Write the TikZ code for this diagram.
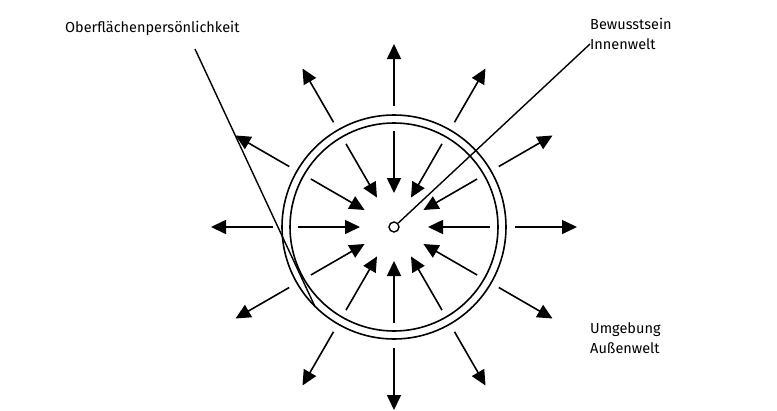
\documentclass[tikz,border=0pt]{standalone}
\usepackage{fontspec}
\setmainfont{Fira Sans}
\usetikzlibrary{arrows.meta, calc}
\tikzset{
  ray/.style={line width=1.6pt, -{Triangle[length=15pt, width=14pt]}},
  lbl/.style={font=\fontsize{14.5}{20}\selectfont, inner sep=0pt, align=left},
  pointer/.style={line width=1.4pt}
}
\begin{document}
\begin{tikzpicture}[x=1pt, y=-1pt]
\useasboundingbox (0,0) rectangle (777,410);
\coordinate (c) at (394,227);
\draw[line width=1.6pt] (c) circle (112pt);
\draw[line width=1.6pt] (c) circle (104pt);
\node (core) [circle, draw, line width=1.4pt, minimum size=10pt, inner sep=0pt] at (c) {};
% inward and outward arrows
\foreach \a in {0,30,...,330} {
  \draw[ray] ($(c)+(\a:96)$) -- ($(c)+(\a:34)$);
  \draw[ray] ($(c)+(\a:121)$) -- ($(c)+(\a:183)$);
}
\node (ober) [lbl, anchor=west] at (65,28) {Oberflächenpersönlichkeit};
\node (bew) [lbl, anchor=north west] at (590,18) {Bewusstsein\\Innenwelt};
\node (umg) [lbl, anchor=north west] at (590,322) {Umgebung\\Außenwelt};
\coordinate (oberend) at (195,49);
\coordinate (bewend) at (590,44);
\draw[pointer] (oberend) -- ($(c)+(135:112)$);
\draw[pointer] (bewend) -- (core);
\end{tikzpicture}
\end{document}
